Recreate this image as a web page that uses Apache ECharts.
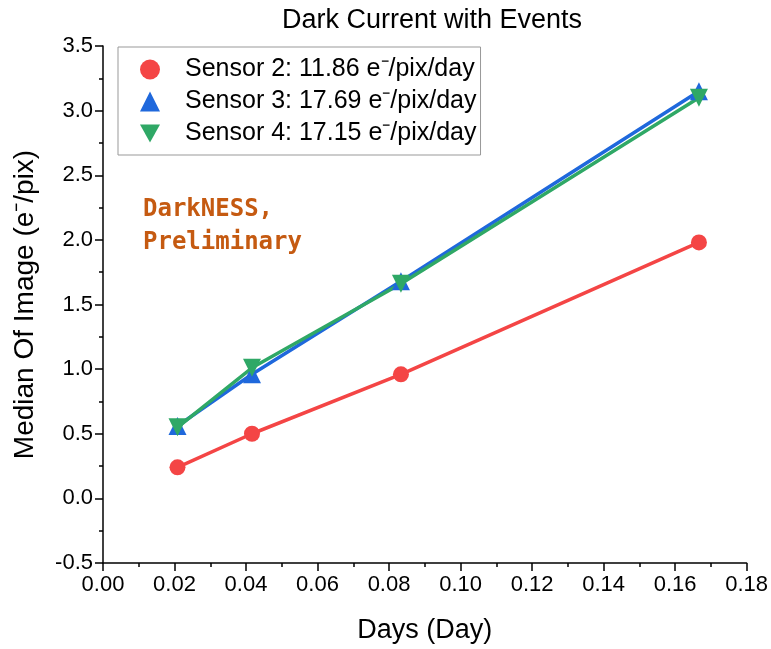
<!DOCTYPE html>
<html><head><meta charset="utf-8">
<script src="https://cdn.jsdelivr.net/npm/echarts@6/dist/echarts.min.js"></script>
<style>html,body{margin:0;padding:0;background:#fff}#c{width:771px;height:649px}</style>
</head><body><div id="c"></div>
<script>
var days = [0.02083, 0.04167, 0.08333, 0.16667];
var sensor2 = [0.24, 0.50, 0.96, 1.98];
var sensor3 = [0.56, 0.96, 1.68, 3.15];
var sensor4 = [0.55, 1.01, 1.66, 3.10];
var names = ['Sensor 2: 11.86 e\u207B/pix/day', 'Sensor 3: 17.69 e\u207B/pix/day', 'Sensor 4: 17.15 e\u207B/pix/day'];
var colors = ['#f44545', '#1f68dc', '#2fa866'];

function pts(ys){ return days.map(function(d,i){ return [d, ys[i]]; }); }
var font = 'Liberation Sans, Arial, sans-serif';
var chart = echarts.init(document.getElementById('c'));
chart.setOption({
  animation: false,
  title: { text: 'Dark Current with Events', left: 427, textAlign: 'center', top: 2,
    textStyle: { fontFamily: font, fontSize: 27, fontWeight: 'normal', color: '#000' } },
  grid: { left: 103, right: 23, top: 46, bottom: 79 },
  legend: {
    left: 118, top: 47, orient: 'vertical', itemGap: 7, itemWidth: 20, itemHeight: 20,
    borderColor: '#999', borderWidth: 1, padding: [10, 4, 9, 22],
    textStyle: { fontFamily: font, fontSize: 25, color: '#000', padding: [0,0,0,20] },
    data: [
      { name: names[0], icon: 'circle' },
      { name: names[1], icon: 'triangle' },
      { name: names[2], icon: 'path://M0,0 L10,0 L5,9 Z' }
    ]
  },
  xAxis: {
    type: 'value', min: 0, max: 0.18, interval: 0.02,
    name: 'Days (Day)', nameLocation: 'middle', nameGap: 54,
    nameTextStyle: { fontFamily: font, fontSize: 27, color: '#000' },
    axisLine: { onZero: false, lineStyle: { color: '#000', width: 1.5 } },
    axisTick: { inside: false, length: 8, lineStyle: { color: '#000', width: 1.5 } },
    minorTick: { show: true, splitNumber: 2, length: 4, lineStyle: { color: '#000', width: 1.5 } },
    axisLabel: { fontFamily: font, fontSize: 22, color: '#000', margin: 11,
      formatter: function(v){ return v.toFixed(2); } },
    splitLine: { show: false }
  },
  yAxis: {
    type: 'value', min: -0.5, max: 3.5, interval: 0.5,
    name: 'Median Of Image (e\u207B/pix)', nameLocation: 'middle', nameGap: 64,
    nameTextStyle: { fontFamily: font, fontSize: 28, color: '#000' },
    axisLine: { show: true, onZero: false, lineStyle: { color: '#000', width: 1.5 } },
    axisTick: { show: true, inside: false, length: 8, lineStyle: { color: '#000', width: 1.5 } },
    minorTick: { show: true, splitNumber: 2, length: 4, lineStyle: { color: '#000', width: 1.5 } },
    axisLabel: { fontFamily: font, fontSize: 22, color: '#000', margin: 10,
      formatter: function(v){ return v.toFixed(1); } },
    splitLine: { show: false }
  },
  graphic: [{
    type: 'text', left: 143, top: 193,
    style: { text: 'DarkNESS,\nPreliminary', fill: '#c55a11',
      font: 'bold 24px "DejaVu Sans Mono", "Liberation Mono", monospace', lineHeight: 33 }
  }],
  series: [
    { name: names[0], type: 'line', data: pts(sensor2), symbol: 'circle', symbolSize: 16,
      itemStyle: { color: colors[0] }, lineStyle: { color: colors[0], width: 3.5 } },
    { name: names[1], type: 'line', data: pts(sensor3), symbol: 'triangle', symbolSize: 18,
      itemStyle: { color: colors[1] }, lineStyle: { color: colors[1], width: 3.5 } },
    { name: names[2], type: 'line', data: pts(sensor4), symbol: 'triangle', symbolRotate: 180, symbolSize: 18,
      itemStyle: { color: colors[2] }, lineStyle: { color: colors[2], width: 3.5 } }
  ]
});
</script></body></html>
